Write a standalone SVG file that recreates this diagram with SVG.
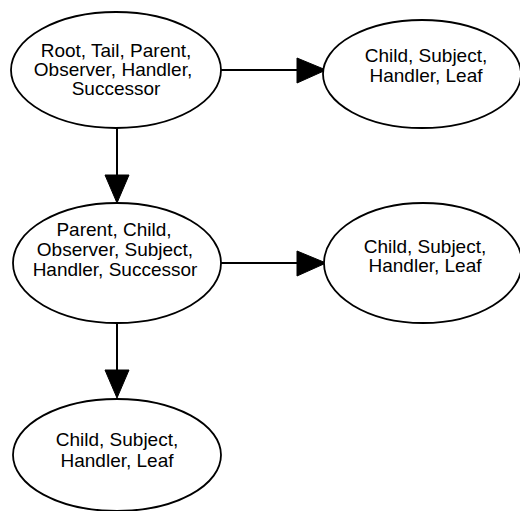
<svg xmlns="http://www.w3.org/2000/svg" width="520" height="511" viewBox="0 0 520 511">
  <style>
    .node ellipse { fill: #ffffff; stroke: #000000; stroke-width: 1.8; }
    .node text { font-family: "Liberation Sans", Arial, sans-serif; font-size: 19px; fill: #000000; text-anchor: middle; }
    .edge { stroke: #000000; stroke-width: 2; fill: none; }
    .head { fill: #000000; stroke: #000000; stroke-width: 1; }
  </style>

  <rect width="520" height="511" fill="#ffffff"/>

  <g id="connectors">
    <!-- Root -> right child -->
    <line class="edge" x1="221" y1="70" x2="300" y2="70"/>
    <polygon class="head" points="297,58 326,70 297,83"/>
    <!-- Root -> middle node -->
    <line class="edge" x1="117" y1="128" x2="117" y2="178"/>
    <polygon class="head" points="105,175 117,203 129,175"/>
    <!-- Middle node -> right child -->
    <line class="edge" x1="221" y1="263" x2="300" y2="263"/>
    <polygon class="head" points="297,251 326,263 297,276"/>
    <!-- Middle node -> bottom leaf -->
    <line class="edge" x1="117" y1="323" x2="117" y2="373"/>
    <polygon class="head" points="105,370 117,398 129,370"/>
  </g>

  <g id="node-root" class="node">
    <ellipse cx="116" cy="70" rx="105" ry="58"/>
    <text x="116" y="57">Root, Tail, Parent,</text>
    <text x="113" y="76">Observer, Handler,</text>
    <text x="116" y="95">Successor</text>
  </g>

  <g id="node-leaf-top" class="node">
    <ellipse cx="422" cy="74" rx="99" ry="54"/>
    <text x="426" y="62">Child, Subject,</text>
    <text x="426" y="82">Handler, Leaf</text>
  </g>

  <g id="node-middle" class="node">
    <ellipse cx="117" cy="263" rx="104" ry="60"/>
    <text x="114" y="236">Parent, Child,</text>
    <text x="115" y="256">Observer, Subject,</text>
    <text x="115" y="276">Handler, Successor</text>
  </g>

  <g id="node-leaf-middle" class="node">
    <ellipse cx="423" cy="263" rx="99" ry="60"/>
    <text x="425" y="253">Child, Subject,</text>
    <text x="425" y="272">Handler, Leaf</text>
  </g>

  <g id="node-leaf-bottom" class="node">
    <ellipse cx="117" cy="455" rx="104" ry="56"/>
    <text x="117" y="446">Child, Subject,</text>
    <text x="117" y="467">Handler, Leaf</text>
  </g>
</svg>
